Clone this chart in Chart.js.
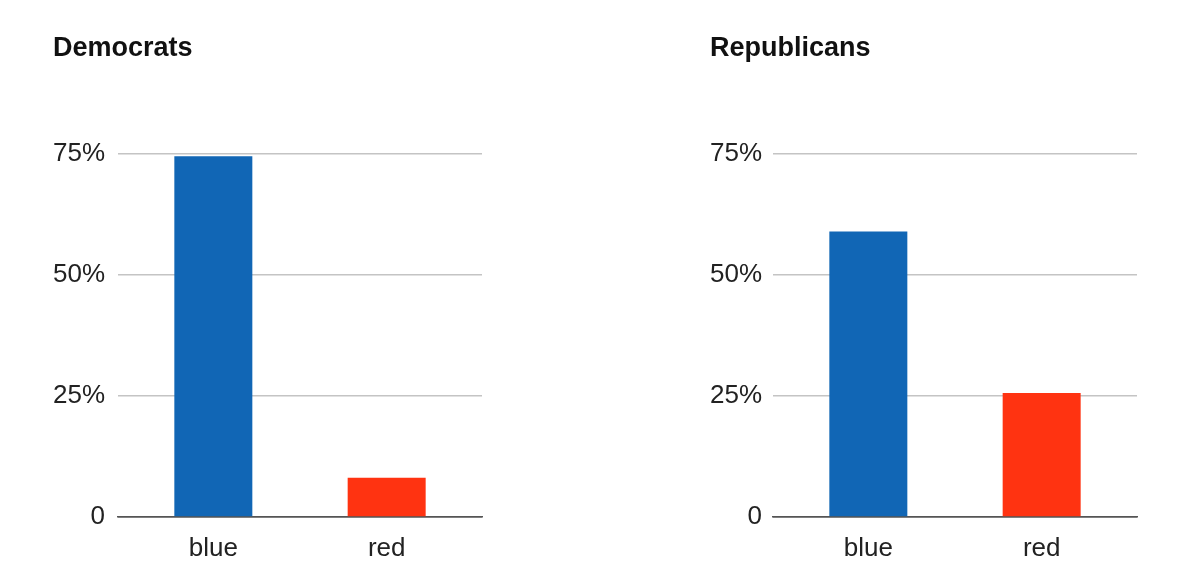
<!DOCTYPE html>
<html>
<head>
<meta charset="utf-8">
<script src="https://cdn.jsdelivr.net/npm/chart.js@4/dist/chart.umd.min.js"></script>
<style>
  body { margin: 0; background: #fff; width: 1200px; height: 580px; position: relative; overflow: hidden; }
  .panel { position: absolute; top: 0; width: 440px; height: 580px; }
</style>
</head>
<body>
<div class="panel" style="left:53px"><canvas id="demChart"></canvas></div>
<div class="panel" style="left:710px"><canvas id="repChart"></canvas></div>
<script>
// chart data
const categories = ['blue', 'red'];
const democratValues = [74.4, 8.1];
const republicanValues = [58.9, 25.6];
const tickValues = [0, 25, 50, 75];
const barColors = ['#1166b5', '#ff3311'];

function buildChart(canvasId, title, values, axisWidth, rightPad, labelPad) {
    const ctx = document.getElementById(canvasId);
    return new Chart(ctx.getContext('2d'), {
        type: 'bar',
        data: {
            datasets: [{
                label: title,
                data: values.map((v, i) => ({ x: i, y: v })),
                backgroundColor: barColors,
                borderWidth: 0,
                categoryPercentage: 1,
                barPercentage: 0.45
            }]
        },
        options: {
            responsive: true,
            maintainAspectRatio: false,
            animation: false,
            layout: { padding: { left: 0, right: rightPad, top: 0, bottom: 0 } },
            scales: {
                x: {
                    type: 'linear',
                    offset: false,
                    min: -0.55,
                    max: categories.length - 0.45,
                    afterBuildTicks: (scale) => { scale.ticks = categories.map((c, i) => ({ value: i })); },
                    grid: { display: false, drawTicks: false },
                    border: { display: true, color: '#555', width: 1.5 },
                    ticks: {
                        color: '#222',
                        padding: 16,
                        font: { family: 'Liberation Sans, Arial, sans-serif', size: 26 },
                        callback: (v) => categories[v]
                    },
                    afterFit: (scale) => { scale.height = 63; }
                },
                y: {
                    min: 0,
                    max: 75,
                    afterBuildTicks: (scale) => { scale.ticks = tickValues.map(v => ({ value: v })); },
                    grid: {
                        drawTicks: false,
                        lineWidth: 1.5,
                        color: (c) => (c.tick && c.tick.value === 0) ? '#555' : '#c4c4c4'
                    },
                    border: { display: false },
                    ticks: {
                        color: '#222',
                        padding: labelPad,
                        font: { family: 'Liberation Sans, Arial, sans-serif', size: 26 },
                        callback: (v) => v === 0 ? '0' : v + '%'
                    },
                    afterFit: (scale) => { scale.width = axisWidth; }
                }
            },
            plugins: {
                legend: { display: false },
                tooltip: { enabled: false },
                title: {
                    display: true,
                    text: title,
                    align: 'start',
                    color: '#111',
                    font: { family: 'Liberation Sans, Arial, sans-serif', size: 27, weight: 'bold' },
                    padding: { top: 32, bottom: 89 }
                }
            }
        }
    });
}

buildChart('demChart', 'Democrats', democratValues, 65, 11, 13);
buildChart('repChart', 'Republicans', republicanValues, 63, 13, 11);
</script>
</body>
</html>
